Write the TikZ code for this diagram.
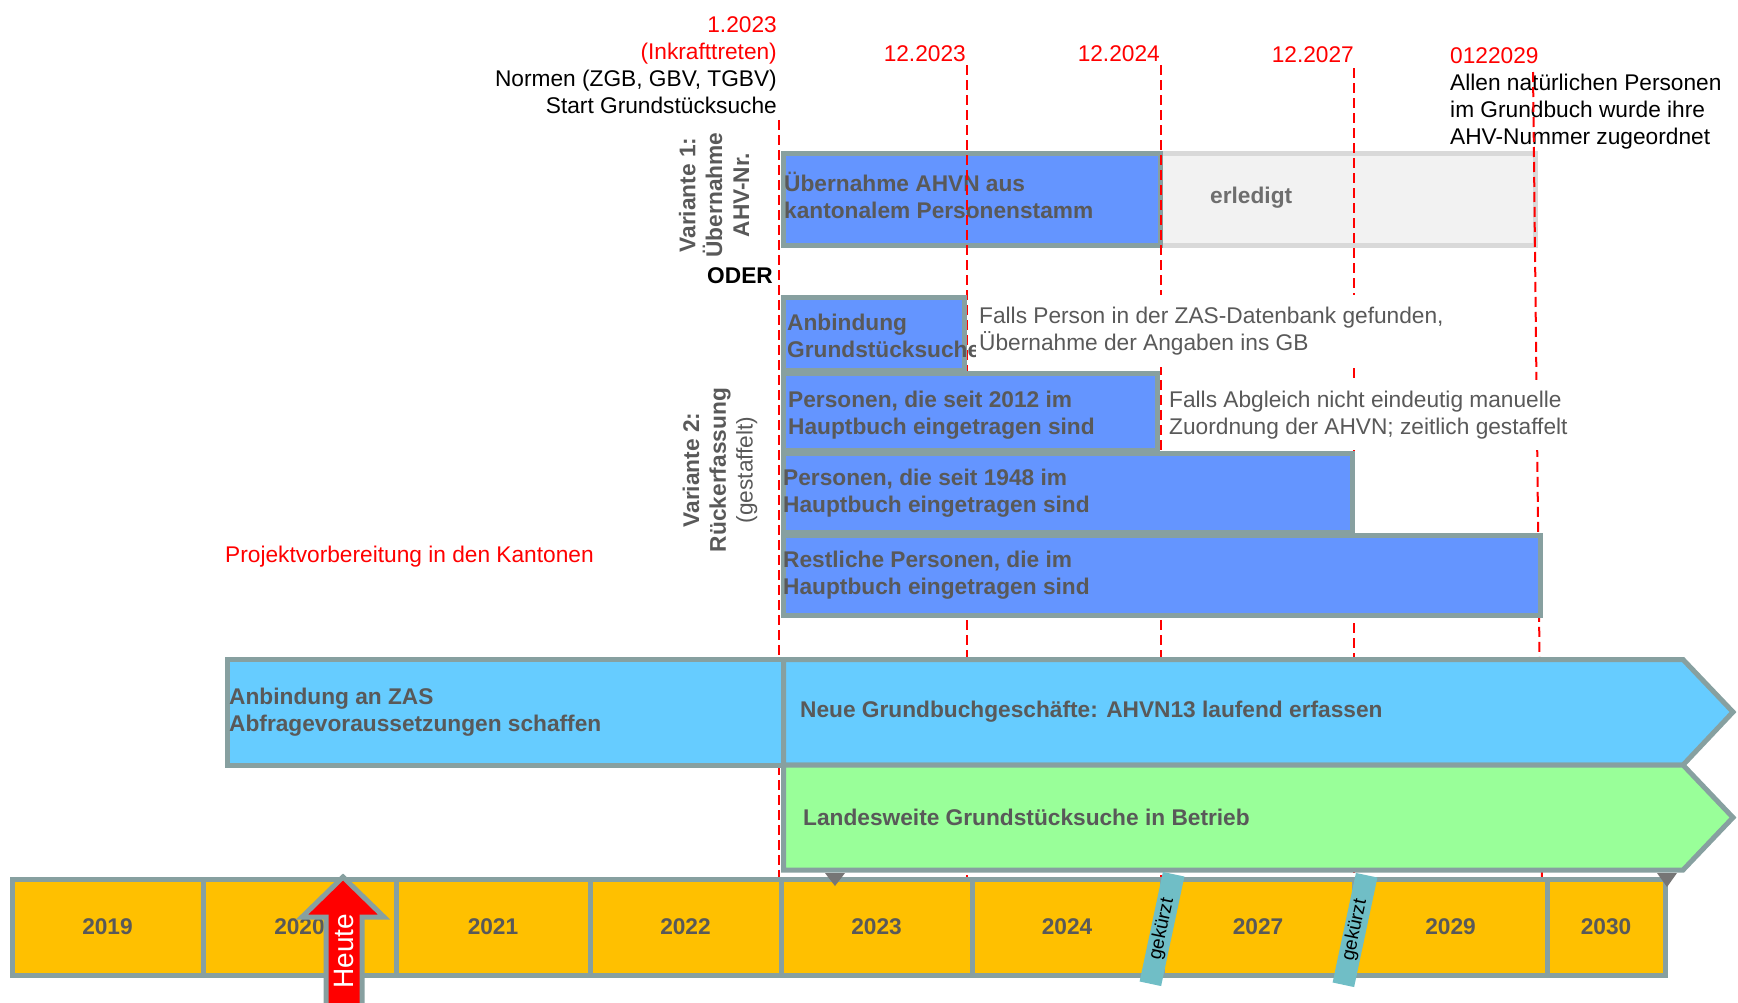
\documentclass[tikz,border=0pt]{standalone}
\usepackage{fontspec}
\setmainfont{Liberation Sans}
\usepackage{xcolor}
\definecolor{rahmen}{RGB}{135,160,160}
\definecolor{balkenblau}{RGB}{100,149,255}
\definecolor{hellblau}{RGB}{102,204,255}
\definecolor{hellgruen}{RGB}{153,255,153}
\definecolor{jahrgelb}{RGB}{255,192,0}
\definecolor{schrift}{RGB}{89,89,89}
\definecolor{erledigtgrau}{RGB}{242,242,242}
\definecolor{erledigtrand}{RGB}{217,217,217}
\definecolor{erledigttext}{RGB}{110,110,110}
\definecolor{kurzband}{RGB}{112,190,198}
\definecolor{markgrau}{RGB}{118,118,118}

\begin{document}
\begin{tikzpicture}[x=1pt,y=-1pt]
  \tikzset{balken/.style   = {draw=rahmen, line width=5pt, fill=balkenblau},
           pfeil/.style    = {draw=rahmen, line width=5pt, line join=miter},
           jahrfeld/.style = {draw=rahmen, line width=5pt, fill=jahrgelb},
           fett/.style     = {font=\fontsize{22.7}{26.8}\selectfont\bfseries, text=schrift,
                              inner sep=0pt, align=left},
           normal/.style   = {font=\fontsize{22.7}{27}\selectfont, inner sep=0pt},
           datum/.style    = {normal, text=red, anchor=base east},
           termin/.style   = {draw=red, line width=2pt, dash pattern=on 10pt off 5pt},
           hinweis/.style  = {normal, text=schrift, fill=white, align=left, anchor=west,
                              inner xsep=3pt, inner ysep=0pt},
           kurz/.style     = {fill=kurzband, rotate=78, minimum width=112pt, minimum height=22pt,
                              inner sep=0pt, font=\fontsize{19}{19}\selectfont}}
  \useasboundingbox (0,0) rectangle (1738,1002);

%part Kopfzeile
\node[normal, align=right, anchor=base east] (inkraft) at (777,113)
  {\textcolor{red}{1.2023}\\\textcolor{red}{(Inkrafttreten)}\\Normen (ZGB, GBV, TGBV)\\Start Grundstücksuche};
\node[datum] (d2023) at (966,61) {12.2023};
\node[datum] (d2024) at (1160,61) {12.2024};
\node[datum] (d2027) at (1354,62) {12.2027};
\node[normal, align=left, anchor=base west] (frist) at (1450,144)
  {\textcolor{red}{0122029}\\Allen natürlichen Personen\\im Grundbuch wurde ihre\\AHV-Nummer zugeordnet};

%part Variante 1
\draw[draw=erledigtrand, line width=5pt, fill=erledigtgrau] (1160,153) rectangle (1535,245);
\draw[balken] (783.5,153) rectangle (1160,245);
\node[fett, anchor=west] (uebernahme) at (784,195.5) {Übernahme AHVN aus\\kantonalem Personenstamm};
\node[fett, text=erledigttext, anchor=base west] (erledigt) at (1210,203) {erledigt};
\node[fett, align=center, rotate=90] (var1) at (714,195) {Variante 1:\\Übernahme\\AHV-Nr.};
\node[fett, text=black, anchor=base east] (oder) at (773,283) {ODER};

% part Stichtage
\foreach \oben/\xo/\xu in {120/779/779, 65/966.5/966.5, 65/1161/1161, 68/1354/1354, 72/1533/1542}
  \draw[termin] (\xo,\oben) -- (\xu,879);

%part Variante 2
\draw[balken] (783.5,297) rectangle (964,370);
\draw[balken] (783.5,373) rectangle (1157.5,450);
\draw[balken] (783.5,453) rectangle (1352,532);
\draw[balken] (783.5,535) rectangle (1540,615);
\node[fett, anchor=west] (anbindung) at (787,336) {Anbindung\\Grundstücksuche};
\node[fett, anchor=west] (p2012) at (788,415) {Personen, die seit 2012 im\\Hauptbuch eingetragen sind};
\node[fett, anchor=west] (p1948) at (783,493) {Personen, die seit 1948 im\\Hauptbuch eingetragen sind};
\node[fett, anchor=west] (rest) at (783,575) {Restliche Personen, die im\\Hauptbuch eingetragen sind};
\node[fett, align=center, rotate=90] (var2) at (720,470) {Variante 2:\\Rückerfassung\\\mdseries(gestaffelt)};

\node[hinweis, minimum height=72pt] (gefunden) at (976,331)
  {Falls Person in der ZAS-Datenbank gefunden,\\Übernahme der Angaben ins GB};
\node[hinweis, minimum height=70pt] (abgleich) at (1166,415)
  {Falls Abgleich nicht eindeutig manuelle\\Zuordnung der AHVN; zeitlich gestaffelt};
\node[normal, text=red, anchor=base west] (projekt) at (225,562) {Projektvorbereitung in den Kantonen};

% part Pfeile
\draw[pfeil, fill=hellblau] (227,659.5) rectangle (783.5,765);
\node[fett, anchor=west] (zas) at (229,712) {Anbindung an ZAS\\Abfragevoraussetzungen schaffen};
\draw[pfeil, fill=hellblau] (783.5,659.5) -- (1683,659.5) -- (1733,712) -- (1683,765) -- (783.5,765) -- cycle;
\node[fett, anchor=west] (laufend) at (800,712) {Neue Grundbuchgeschäfte: AHVN13 laufend erfassen};
\draw[pfeil, fill=hellgruen] (783.5,765) -- (1683,765) -- (1733,817.5) -- (1683,870) -- (783.5,870) -- cycle;
\node[fett, anchor=west] (betrieb) at (803,817.5) {Landesweite Grundstücksuche in Betrieb};

% part Zeitachse
\foreach \links/\rechts/\jahr in {12/203/2019, 203/396/2020, 396/590/2021, 590/781/2022, 781/972/2023,
                                  972/1162/2024, 1162/1354/2027, 1354/1547/2029, 1547/1665/2030}
{
  \draw[jahrfeld] (\links,879) rectangle (\rechts,975);
  \node[fett] (j\jahr) at ({(\links+\rechts)/2},927) {\jahr};
}
\fill[markgrau] (825,873) -- (845,873) -- (835,886) -- cycle;
\fill[markgrau] (1657,873) -- (1677,873) -- (1667,887) -- cycle;

\node[kurz] (kurz1) at (1162,929) {gekürzt};
\node[kurz] (kurz2) at (1355,930) {gekürzt};

% part Heute
\draw[fill=red, draw=rahmen, line width=5pt, line join=miter]
  (326,1004) -- (326,917) -- (302,917) -- (343,877) -- (384,917) -- (362,917) -- (362,1004);
\node[rotate=90, text=white, font=\fontsize{28}{28}\selectfont, inner sep=0pt] (heute) at (344,951) {Heute};

\end{tikzpicture}
\end{document}
